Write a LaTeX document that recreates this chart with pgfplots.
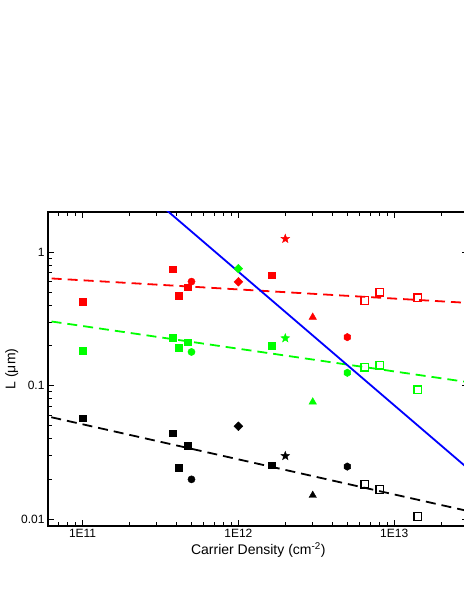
\documentclass[border=0pt]{standalone}
\usepackage{fontspec}
\setmainfont{Liberation Sans}
\usepackage{pgfplots}
\pgfplotsset{compat=1.18}
\definecolor{rr}{HTML}{FF0000}
\definecolor{gg}{HTML}{00FF00}
\definecolor{bb}{HTML}{0000FF}

% filled hexagon and 5-point star marks
\pgfdeclareplotmark{hexa}{%
  \pgfpathmoveto{\pgfpointpolar{90}{\pgfplotmarksize}}%
  \pgfpathlineto{\pgfpointpolar{150}{\pgfplotmarksize}}%
  \pgfpathlineto{\pgfpointpolar{210}{\pgfplotmarksize}}%
  \pgfpathlineto{\pgfpointpolar{270}{\pgfplotmarksize}}%
  \pgfpathlineto{\pgfpointpolar{330}{\pgfplotmarksize}}%
  \pgfpathlineto{\pgfpointpolar{30}{\pgfplotmarksize}}%
  \pgfpathclose\pgfusepathqfillstroke}
\pgfdeclareplotmark{fstar}{%
  \pgfpathmoveto{\pgfpointpolar{90}{\pgfplotmarksize}}%
  \pgfpathlineto{\pgfpointpolar{126}{0.42\pgfplotmarksize}}%
  \pgfpathlineto{\pgfpointpolar{162}{\pgfplotmarksize}}%
  \pgfpathlineto{\pgfpointpolar{198}{0.42\pgfplotmarksize}}%
  \pgfpathlineto{\pgfpointpolar{234}{\pgfplotmarksize}}%
  \pgfpathlineto{\pgfpointpolar{270}{0.42\pgfplotmarksize}}%
  \pgfpathlineto{\pgfpointpolar{306}{\pgfplotmarksize}}%
  \pgfpathlineto{\pgfpointpolar{342}{0.42\pgfplotmarksize}}%
  \pgfpathlineto{\pgfpointpolar{18}{\pgfplotmarksize}}%
  \pgfpathlineto{\pgfpointpolar{54}{0.42\pgfplotmarksize}}%
  \pgfpathclose\pgfusepathqfillstroke}

\pgfplotsset{
  sq/.style={only marks,mark=square*,mark size=3.3pt,#1,mark options={fill=#1,draw=#1}},
  ci/.style={only marks,mark=*,mark size=3.6pt,#1,mark options={fill=#1,draw=#1}},
  di/.style={only marks,mark=square*,mark size=3.1pt,#1,mark options={fill=#1,draw=#1,rotate=45}},
  st/.style={only marks,mark=fstar,mark size=4.6pt,#1,mark options={fill=#1,draw=#1}},
  tr/.style={only marks,mark=triangle*,mark size=4.3pt,#1,mark options={fill=#1,draw=#1}},
  hx/.style={only marks,mark=hexa,mark size=3.8pt,#1,mark options={fill=#1,draw=#1}},
  os/.style={only marks,mark=square,mark size=3.8pt,#1,mark options={draw=#1,line width=1.4pt,fill=white}},
  fitline/.style={#1,line width=1.8pt,dash pattern=on 10pt off 6pt,no marks},
}

\begin{document}
\begin{tikzpicture}
\useasboundingbox (0,0) rectangle (463pt,599pt);
\begin{axis}[
  at={(48pt,73pt)},anchor=south west,
  scale only axis,width=420.5pt,height=314pt,
  xmode=log,ymode=log,
  xmin=6.0e10,xmax=3.0e13,ymin=0.0089,ymax=2.0,
  xtick={1e11,1e12,1e13},xticklabels={1E11,1E12,1E13},
  ytick={0.01,0.1,1},yticklabels={0.01,0.1,1},
  minor xtick={6e10,7e10,8e10,9e10,2e11,3e11,4e11,5e11,6e11,7e11,8e11,9e11,2e12,3e12,4e12,5e12,6e12,7e12,8e12,9e12,2e13},
  minor ytick={0.009,0.02,0.03,0.04,0.05,0.06,0.07,0.08,0.09,0.2,0.3,0.4,0.5,0.6,0.7,0.8,0.9,2},
  major tick length=6.5pt,minor tick length=3.8pt,
  tick align=inside,
  every tick/.style={black,line width=1pt},
  axis line style={line width=1.3pt},
  /pgf/number format/assume math mode=true,
  tick label style={font=\fontsize{12}{14}\selectfont},
  label style={font=\fontsize{14}{16}\selectfont},
  xlabel={Carrier Density (cm\textsuperscript{-2})},
  ylabel={L (μm)},
  xlabel style={yshift=2pt},
  ylabel style={yshift=-4pt},
]
% fit lines
\addplot[fitline=rr] coordinates {(5e10,0.646)(3.2e13,0.415)};
\addplot[fitline=gg] coordinates {(5e10,0.315)(3.2e13,0.105)};
\addplot[fitline=black] coordinates {(5e10,0.0617)(3.2e13,0.0113)};
\addplot[bb,line width=1.8pt,no marks] coordinates {(2.5e11,2.856)(3.2e13,0.0223)};

% red
\addplot[sq=rr] coordinates {(1e11,0.424)(3.78e11,0.746)(4.15e11,0.471)(4.72e11,0.547)(1.63e12,0.672)};
\addplot[ci=rr] coordinates {(5e11,0.602)};
\addplot[di=rr] coordinates {(1e12,0.60)};
\addplot[st=rr] coordinates {(2e12,1.26)};
\addplot[tr=rr] coordinates {(3e12,0.326)};
\addplot[hx=rr] coordinates {(5e12,0.231)};
\addplot[os=rr] coordinates {(6.49e12,0.434)(8.09e12,0.50)(1.42e13,0.455)};

% green
\addplot[sq=gg] coordinates {(1e11,0.182)(3.78e11,0.229)(4.15e11,0.193)(4.72e11,0.212)(1.63e12,0.199)};
\addplot[ci=gg] coordinates {(5e11,0.179)};
\addplot[di=gg] coordinates {(1e12,0.754)};
\addplot[st=gg] coordinates {(2e12,0.227)};
\addplot[tr=gg] coordinates {(3e12,0.0756)};
\addplot[hx=gg] coordinates {(5e12,0.125)};
\addplot[os=gg] coordinates {(6.49e12,0.138)(8.09e12,0.142)(1.42e13,0.0933)};

% black
\addplot[sq=black] coordinates {(1e11,0.0571)(3.78e11,0.0441)(4.15e11,0.0244)(4.72e11,0.0356)(1.63e12,0.0254)};
\addplot[ci=black] coordinates {(5e11,0.0199)};
\addplot[di=black] coordinates {(1e12,0.0497)};
\addplot[st=black] coordinates {(2e12,0.0298)};
\addplot[tr=black] coordinates {(3e12,0.0151)};
\addplot[hx=black] coordinates {(5e12,0.0248)};
\addplot[os=black] coordinates {(6.49e12,0.0183)(8.09e12,0.0167)(1.42e13,0.0105)};
\end{axis}
\end{tikzpicture}
\end{document}
